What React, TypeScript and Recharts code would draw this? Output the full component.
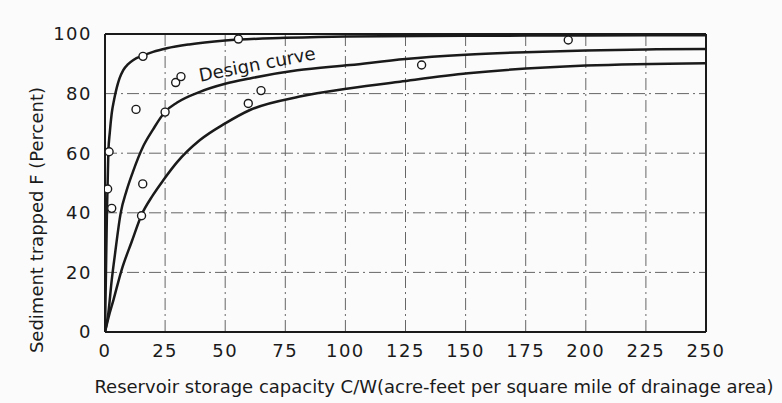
import React from "react";
import {
  CartesianGrid,
  ComposedChart,
  Line,
  ReferenceLine,
  Scatter,
  XAxis,
  YAxis,
} from "recharts";

// C/W ticks and percent ticks
const xTicks = [0, 25, 50, 75, 100, 125, 150, 175, 200, 225, 250];
const yTicks = [0, 20, 40, 60, 80, 100];

// upper envelope curve
const upperCurve = [
  { x: 0, y: 0 },
  { x: 0.4, y: 20 },
  { x: 0.8, y: 40 },
  { x: 1.1, y: 50 },
  { x: 1.4, y: 60.5 },
  { x: 2, y: 67 },
  { x: 2.8, y: 73.4 },
  { x: 3.8, y: 78 },
  { x: 4.9, y: 82 },
  { x: 6, y: 85 },
  { x: 7.6, y: 87.9 },
  { x: 9.5, y: 89.8 },
  { x: 11.8, y: 91.3 },
  { x: 15.9, y: 92.8 },
  { x: 20, y: 94 },
  { x: 25.7, y: 95.2 },
  { x: 35, y: 96.5 },
  { x: 50, y: 97.8 },
  { x: 75, y: 98.7 },
  { x: 100, y: 99.2 },
  { x: 150, y: 99.4 },
  { x: 200, y: 99.5 },
  { x: 250, y: 99.6 },
];

// design curve (median)
const designCurve = [
  { x: 0, y: 0 },
  { x: 1.4, y: 6.4 },
  { x: 2.8, y: 17.4 },
  { x: 4.2, y: 26.4 },
  { x: 6.5, y: 39.8 },
  { x: 9, y: 47.5 },
  { x: 11.5, y: 53.5 },
  { x: 16, y: 62.5 },
  { x: 20, y: 68 },
  { x: 25, y: 73.9 },
  { x: 30, y: 77 },
  { x: 39.5, y: 80.6 },
  { x: 50, y: 83.3 },
  { x: 60.3, y: 85.1 },
  { x: 80, y: 87.8 },
  { x: 102, y: 89.6 },
  { x: 125, y: 91.6 },
  { x: 150, y: 93 },
  { x: 175, y: 93.9 },
  { x: 200, y: 94.5 },
  { x: 225, y: 94.8 },
  { x: 250, y: 95 },
];

// lower envelope curve
const lowerCurve = [
  { x: 0, y: 0 },
  { x: 1.5, y: 5 },
  { x: 3.5, y: 10.7 },
  { x: 6.9, y: 20.8 },
  { x: 11.1, y: 30.3 },
  { x: 15.2, y: 39.3 },
  { x: 20, y: 46 },
  { x: 24.3, y: 51 },
  { x: 30, y: 57 },
  { x: 39.5, y: 64.4 },
  { x: 50, y: 70 },
  { x: 60.3, y: 74.5 },
  { x: 81, y: 79 },
  { x: 102, y: 81.8 },
  { x: 122.7, y: 84 },
  { x: 151, y: 86.8 },
  { x: 200, y: 89.4 },
  { x: 250, y: 90.2 },
];

// observed reservoirs
const observed = [
  { x: 1.1, y: 48 },
  { x: 1.7, y: 60.5 },
  { x: 2.8, y: 41.5 },
  { x: 15.2, y: 39 },
  { x: 15.7, y: 49.7 },
  { x: 12.9, y: 74.7 },
  { x: 15.8, y: 92.5 },
  { x: 25, y: 73.8 },
  { x: 29.4, y: 83.7 },
  { x: 31.6, y: 85.7 },
  { x: 55.5, y: 98.3 },
  { x: 59.6, y: 76.7 },
  { x: 64.9, y: 81 },
  { x: 131.7, y: 89.6 },
  { x: 192.7, y: 98 },
];

const FONT = "'DejaVu Sans', sans-serif";
const INK = "#1a1a1a";

const OpenCircle = (props: any) => (
  <circle cx={props.cx} cy={props.cy} r={4} fill="#fff" stroke={INK} strokeWidth={1.4} />
);

const tickStyle = { fill: INK, fontSize: 18, fontFamily: FONT, letterSpacing: 1.5 };

export default function App() {
  return (
    <div
      style={{
        position: "absolute",
        left: 0,
        top: 0,
        width: 782,
        height: 403,
        background: "#fbfbfb",
        fontFamily: FONT,
        color: INK,
      }}
    >
      <ComposedChart
        width={782}
        height={403}
        margin={{ top: 34, right: 76, left: 45, bottom: 0 }}
      >
        <CartesianGrid stroke="#666" strokeWidth={1} strokeDasharray="12 4 2 4" />
        <XAxis
          type="number"
          dataKey="x"
          domain={[0, 250]}
          ticks={xTicks}
          allowDataOverflow
          height={71}
          tickLine={false}
          axisLine={{ stroke: INK, strokeWidth: 2 }}
          tick={tickStyle}
          tickMargin={6}
        />
        <YAxis
          type="number"
          dataKey="y"
          domain={[0, 100]}
          ticks={yTicks}
          allowDataOverflow
          width={60}
          tickLine={false}
          axisLine={{ stroke: INK, strokeWidth: 2 }}
          tick={tickStyle}
          tickMargin={7}
        />
        <ReferenceLine y={100} stroke={INK} strokeWidth={2} />
        <ReferenceLine x={250} stroke={INK} strokeWidth={2} />
        <Line
          data={upperCurve}
          dataKey="y"
          type="monotone"
          stroke={INK}
          strokeWidth={2.5}
          dot={false}
          isAnimationActive={false}
        />
        <Line
          data={designCurve}
          dataKey="y"
          type="monotone"
          stroke={INK}
          strokeWidth={2.5}
          dot={false}
          isAnimationActive={false}
        />
        <Line
          data={lowerCurve}
          dataKey="y"
          type="monotone"
          stroke={INK}
          strokeWidth={2.5}
          dot={false}
          isAnimationActive={false}
        />
        <Scatter data={observed} dataKey="y" shape={OpenCircle} isAnimationActive={false} />
      </ComposedChart>
      <div
        style={{
          position: "absolute",
          left: 257,
          top: 64,
          transform: "translate(-50%, -50%) rotate(-11deg)",
          fontSize: 18,
          whiteSpace: "nowrap",
        }}
      >
        Design curve
      </div>
      <div
        style={{
          position: "absolute",
          left: 434,
          top: 386,
          transform: "translate(-50%, -50%)",
          fontSize: 18,
          whiteSpace: "nowrap",
        }}
      >
        Reservoir storage capacity C/W(acre-feet per square mile of drainage area)
      </div>
      <div
        style={{
          position: "absolute",
          left: 36,
          top: 220,
          transform: "translate(-50%, -50%) rotate(-90deg)",
          fontSize: 18,
          whiteSpace: "nowrap",
        }}
      >
        Sediment trapped F (Percent)
      </div>
    </div>
  );
}
